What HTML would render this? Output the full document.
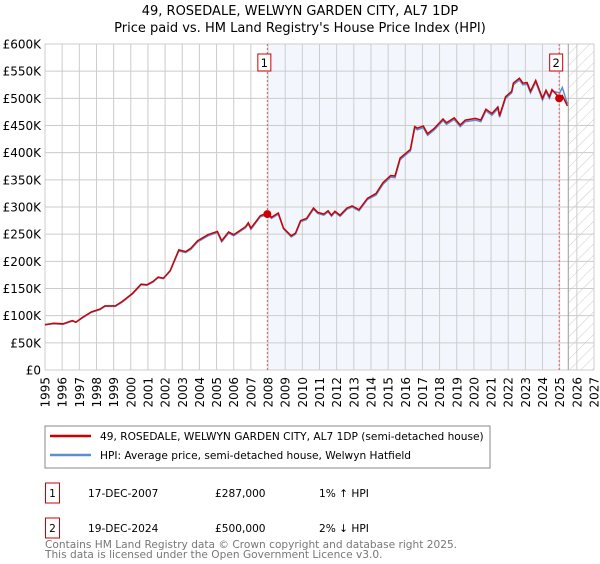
<!DOCTYPE html>
<html><head><meta charset="utf-8"><style>
body{margin:0;background:#fff;font-family:"DejaVu Sans","Liberation Sans",sans-serif;}
svg text{font-family:"DejaVu Sans","Liberation Sans",sans-serif;}
</style></head><body>
<svg id="c" width="600" height="560" xmlns="http://www.w3.org/2000/svg">
<defs><pattern id="hatch" width="8" height="8" patternUnits="userSpaceOnUse" patternTransform="rotate(45)"><line x1="0" y1="0" x2="0" y2="8" stroke="#ccc" stroke-width="1"/></pattern></defs>
<text x="300" y="15" text-anchor="middle" font-size="13">49, ROSEDALE, WELWYN GARDEN CITY, AL7 1DP</text>
<text x="300" y="32" text-anchor="middle" font-size="13">Price paid vs. HM Land Registry's House Price Index (HPI)</text>
<g id="grid"></g><g id="axes"></g><g id="series"></g>
<rect x="45" y="426" width="445" height="42" fill="#fff" stroke="#888"/>
<line x1="50" y1="436" x2="91" y2="436" stroke="#cc0000" stroke-width="2.5"/>
<text x="100" y="440" font-size="10.6">49, ROSEDALE, WELWYN GARDEN CITY, AL7 1DP (semi-detached house)</text>
<line x1="50" y1="455" x2="91" y2="455" stroke="#5b8fd4" stroke-width="2.5"/>
<text x="100" y="459" font-size="10.6">HPI: Average price, semi-detached house, Welwyn Hatfield</text>
<g>
<rect x="45.5" y="483" width="14" height="20" fill="#fff" stroke="#cc0000"/>
<text x="52.5" y="497" text-anchor="middle" font-size="10.6">1</text>
<text x="88" y="497" font-size="10.6">17-DEC-2007</text>
<text x="215" y="497" font-size="10.6">£287,000</text>
<text x="319" y="497" font-size="10.6">1% ↑ HPI</text></g>
<g>
<rect x="45.5" y="518" width="14" height="20" fill="#fff" stroke="#cc0000"/>
<text x="52.5" y="532" text-anchor="middle" font-size="10.6">2</text>
<text x="88" y="532" font-size="10.6">19-DEC-2024</text>
<text x="215" y="532" font-size="10.6">£500,000</text>
<text x="319" y="532" font-size="10.6">2% ↓ HPI</text></g>
<text x="45" y="548" font-size="10.6" fill="#777">Contains HM Land Registry data © Crown copyright and database right 2025.</text>
<text x="45" y="558" font-size="10.6" fill="#777">This data is licensed under the Open Government Licence v3.0.</text>
</svg>
<script>
const years=[1995.0,1995.5,1996.05,1996.6,1996.8,1997.2,1997.7,1998.2,1998.5,1999.1,1999.5,2000.1,2000.6,2000.95,2001.3,2001.6,2001.9,2002.3,2002.8,2003.2,2003.5,2003.9,2004.5,2005.05,2005.3,2005.7,2006.0,2006.7,2006.85,2007.0,2007.55,2007.96,2008.2,2008.6,2008.9,2009.35,2009.6,2009.9,2010.25,2010.65,2010.9,2011.25,2011.5,2011.7,2011.9,2012.2,2012.6,2012.9,2013.3,2013.8,2014.3,2014.7,2015.15,2015.4,2015.7,2016.3,2016.55,2016.7,2017.05,2017.3,2017.7,2018.2,2018.4,2018.85,2019.2,2019.5,2020.1,2020.4,2020.7,2021.05,2021.4,2021.5,2021.85,2022.2,2022.3,2022.65,2022.85,2023.1,2023.3,2023.6,2024.0,2024.2,2024.4,2024.55,2025.0,2025.15,2025.45];
const priceValues=[83,86,85,91,88,97,107,112,118,118,126,141,158,157,163,171,169,183,221,218,224,238,249,255,238,254,249,264,271,261,284,289,281,289,261,247,252,275,279,298,290,287,293,285,292,285,298,302,295,316,325,345,358,357,390,406,448,445,449,435,445,462,455,464,451,460,463,460,480,472,484,468,503,513,528,537,528,529,513,533,500,515,503,516,500,505,486];
const hpiValues=[84,85,84,90,88,96,106,111,117,117,125,140,157,156,162,170,168,182,219,216,222,236,247,253,236,252,247,262,269,259,282,286,279,287,260,245,250,273,277,296,288,285,291,283,290,283,296,300,293,314,322,342,355,354,387,403,445,442,446,432,442,459,452,461,448,457,460,457,477,469,481,465,500,510,525,534,525,526,510,530,497,512,500,513,510,520,490];
const yTicks=[0,50,100,150,200,250,300,350,400,450,500,550,600];
const xTicks=[1995,1996,1997,1998,1999,2000,2001,2002,2003,2004,2005,2006,2007,2008,2009,2010,2011,2012,2013,2014,2015,2016,2017,2018,2019,2020,2021,2022,2023,2024,2025,2026,2027];
const sales=[{label:"1",year:2007.96,value:287},{label:"2",year:2024.97,value:500}];
const X=y=>45+(y-1995)*(594-45)/32;
const Y=v=>370-v*(370-44)/600;
const NS="http://www.w3.org/2000/svg";
function mk(parent,tag,attrs){const e=document.createElementNS(NS,tag);for(const k in attrs)e.setAttribute(k,attrs[k]);document.getElementById(parent).appendChild(e);return e;}
let e;
e=mk('grid','rect',{x:X(sales[0].year),y:Y(600),width:X(sales[1].year)-X(sales[0].year),height:Y(0)-Y(600),fill:'#eef3fc',opacity:0.7});


e=mk('grid','rect',{x:X(2025.5),y:Y(600),width:X(2027)-X(2025.5),height:Y(0)-Y(600),fill:'url(#hatch)'});


for(const t of yTicks){
 e=mk('grid','line',{x1:X(1995),x2:X(2027),y1:Y(t),y2:Y(t),stroke:'#ccc'});
 
 
 e=mk('axes','text',{x:41,y:Y(t)+4.5,'text-anchor':'end','font-size':12});
 e.textContent=t===0?'£0':'£'+t+'K';
 
 
}
for(const t of xTicks){
 e=mk('grid','line',{x1:X(t),x2:X(t),y1:Y(0),y2:Y(600),stroke:'#ccc'});
 
 
 e=mk('axes','text',{x:0,y:0,'text-anchor':'end','font-size':12,transform:`translate(${X(t)+4.5},377) rotate(-90)`});
 e.textContent=t;
 
 
}
e=mk('grid','line',{x1:X(2025.5),x2:X(2025.5),y1:Y(0),y2:Y(600),stroke:'#999'});


const path=(vals)=>years.map((y,i)=>(i?'L':'M')+X(y).toFixed(1)+','+Y(vals[i]).toFixed(1)).join('');
e=mk('series','path',{d:path(hpiValues),fill:'none',stroke:'#5b8fd4','stroke-width':1.5});


e=mk('series','path',{d:path(priceValues),fill:'none',stroke:'#cc0000','stroke-width':1.5});


for(const s of sales){
 e=mk('series','line',{x1:X(s.year),x2:X(s.year),y1:Y(0),y2:Y(600),stroke:'#e06060','stroke-dasharray':'2,2'});
 
 
 e=mk('series','circle',{cx:X(s.year),cy:Y(s.value),r:4,fill:'#cc0000'});
 
 
 e=mk('series','rect',{x:X(s.year)-9.5,y:54,width:13,height:17,fill:'#fff',stroke:'#cc0000'});
 
 
 e=mk('series','text',{x:X(s.year)-3,y:67,'text-anchor':'middle','font-size':11.5});
 e.textContent=s.label;
 
 
}
</script>
</body></html>
